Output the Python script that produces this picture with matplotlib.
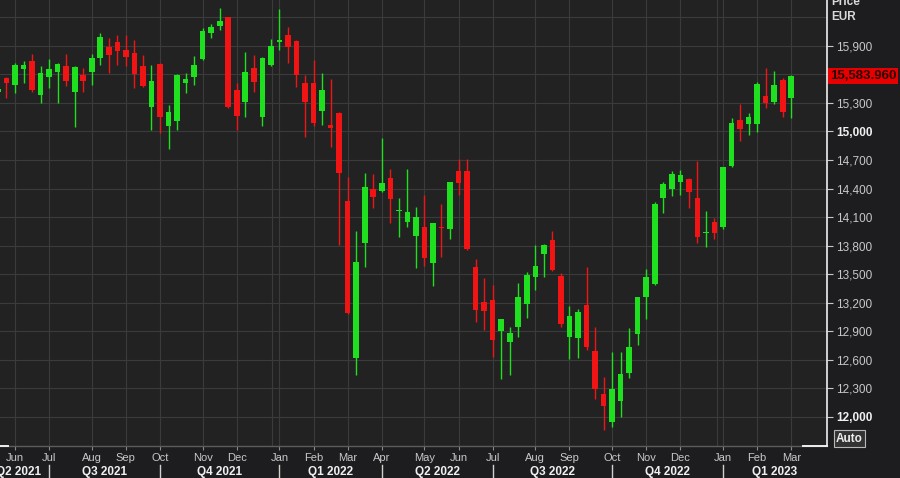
import matplotlib
matplotlib.use('Agg')
import matplotlib.pyplot as plt
import matplotlib.transforms as mtransforms
import numpy as np
import pandas as pd

plt.rcParams['font.family'] = ['Liberation Sans', 'DejaVu Sans']

# weekly candles, week ending Friday
start = '2021-05-21'
opens = [15420, 15560, 15489, 15655, 15745, 15384, 15571, 15630, 15689, 15419,
         15595, 15630, 15771, 15886, 15945, 15858, 15829, 15689, 15255, 15711,
         15058, 15114, 15514, 15571, 15760, 16040, 16111, 16202, 15437, 15314,
         15665, 15156, 15700, 15945, 16016, 15956, 15514, 15514, 15216, 15068,
         15198, 14272, 12613, 13830, 14392, 14374, 14507, 14165, 14051, 13900,
         13998, 13619, 13988, 13974, 14587, 14587, 13577, 13208, 13226, 12903,
         12788, 12939, 13184, 13472, 13707, 13858, 13479, 12834, 12822, 13174,
         12690, 12237, 11945, 12166, 12461, 12868, 13255, 13395, 14297, 14392,
         14472, 14497, 14303, 13932, 14051, 13992, 14637, 15121, 15079, 15079,
         15374, 15314, 15542, 15350]
highs = [15480, 15577, 15718, 15742, 15813, 15689, 15760, 15718, 15816, 15689,
         15665, 15816, 16040, 15981, 16016, 16016, 15963, 15805, 15700, 15720,
         15279, 15605, 15613, 15795, 16086, 16132, 16297, 16208, 15514, 15840,
         15805, 15781, 15971, 16289, 16097, 15963, 15595, 15753, 15619, 15549,
         15210, 14518, 13956, 14566, 14553, 14935, 14605, 14297, 14605, 14202,
         14332, 14034, 14237, 14472, 14707, 14707, 13655, 13455, 13384, 13030,
         12946, 13409, 13524, 13805, 13816, 13956, 13514, 13163, 13132, 13577,
         12946, 12419, 12682, 12682, 12928, 13261, 13550, 14261, 14472, 14587,
         14595, 14507, 14692, 14163, 14086, 14630, 15139, 15290, 15198, 15524,
         15665, 15640, 15560, 15595]
lows = [15390, 15350, 15408, 15507, 15419, 15303, 15455, 15303, 15479, 15051,
        15419, 15489, 15700, 15619, 15700, 15689, 15455, 15465, 15016, 14981,
        14813, 15016, 15408, 15489, 15753, 15981, 16068, 15244, 15016, 15150,
        15419, 15058, 15693, 15858, 15718, 15465, 14945, 15058, 15068, 14840,
        13805, 13079, 12437, 13577, 14192, 14360, 14034, 13893, 13998, 13560,
        13584, 13374, 13676, 13866, 14332, 13753, 12998, 12911, 12630, 12392,
        12437, 12832, 13040, 13332, 13465, 13532, 12939, 12602, 12613, 12700,
        12181, 11858, 11893, 11998, 12402, 12753, 13023, 13384, 14145, 14321,
        14332, 14192, 13823, 13787, 13865, 13971, 14630, 14903, 14963, 14998,
        15244, 15290, 15150, 15139]
closes = [15450, 15514, 15700, 15700, 15437, 15619, 15655, 15707, 15535, 15682,
          15535, 15771, 15992, 15805, 15851, 15781, 15605, 15479, 15535, 15156,
          15208, 15595, 15549, 15700, 16061, 16103, 16163, 15255, 15163, 15630,
          15524, 15771, 15900, 15956, 15886, 15595, 15314, 15093, 15437, 15040,
          14560, 13086, 13630, 14419, 14307, 14455, 14286, 14170, 14153, 14103,
          13665, 14034, 13981, 14465, 14461, 13760, 13121, 13111, 12805, 13023,
          12876, 13255, 13490, 13584, 13805, 13542, 12974, 13061, 13097, 12735,
          12286, 12111, 12286, 12447, 12735, 13255, 13465, 14237, 14447, 14553,
          14542, 14366, 13886, 13939, 13929, 14623, 15093, 15023, 15156, 15500,
          15303, 15489, 15208, 15583.96]
y_ticks = [12000, 12300, 12600, 12900, 13200, 13500, 13800, 14100, 14400,
           14700, 15000, 15300, 15600, 15900]

opens = np.array(opens); highs = np.array(highs)
lows = np.array(lows); closes = np.array(closes)
dates = pd.date_range(start, periods=len(opens), freq='W-FRI')
x = np.arange(len(opens))

W, H = 900, 478
BG = '#1d1d1f'
AXBG = '#222222'
GRID = '#3b3b3b'
GREEN = '#1fe01f'
RED = '#f01414'
LBL = '#c8c8c8'

fig = plt.figure(figsize=(W / 100, H / 100), dpi=100)
fig.patch.set_facecolor(BG)
ax_bottom = 445.7
ax = fig.add_axes([0, 1 - ax_bottom / H, 826.7 / W, ax_bottom / H])
ax.set_facecolor(AXBG)
x0, x1 = 0.24, 97.16
ax.set_xlim(x0, x1)
ax.set_ylim(11693, 16384)

# candles
up = closes >= opens
cols = np.where(up, GREEN, RED)
ax.vlines(x, lows, highs, colors=cols, linewidth=1.0, zorder=3)
ax.bar(x, np.maximum(np.abs(closes - opens), 14), bottom=np.minimum(opens, closes),
       width=0.66, color=cols, linewidth=0, zorder=4)

# month ticks at first candle of each month
mpos = [i for i in range(1, len(dates)) if dates[i].month != dates[i - 1].month]
ax.set_xticks(mpos)
ax.set_xticklabels([])
ax.tick_params(axis='x', length=3, width=0.8, color='#8a8a8a', direction='out')
for yr in (2022, 2023):
    yb = (pd.Timestamp(f'{yr}-01-01') - dates[0]).days / 7
    ax.axvline(yb, color=GRID, lw=0.8, zorder=1)

ax.set_yticks(y_ticks)
ax.yaxis.tick_right()
ax.set_yticklabels(['' if v == 15600 else f'{v:,}' for v in y_ticks])
ax.tick_params(axis='y', length=4, width=0.8, color=LBL, pad=3,
               labelsize=8.5, labelcolor=LBL)
for lab, v in zip(ax.get_yticklabels(), y_ticks):
    if v % 3000 == 0:
        lab.set_fontweight('bold')
        lab.set_color('#f0f0f0')
ax.grid(True, color=GRID, lw=0.8, zorder=1)
ax.axhline(16200, color=GRID, lw=0.8, zorder=1)

for s in ('top', 'left'):
    ax.spines[s].set_visible(False)
ax.spines['right'].set_color('#f0f0f0')
ax.spines['right'].set_linewidth(1.2)
ax.spines['bottom'].set_color('#5c5c5c')
ax.spines['bottom'].set_linewidth(1.0)
ylo = ax.get_ylim()[0]
ax.plot([x0, 1.18], [ylo, ylo], color='#f0f0f0', lw=1.4, clip_on=False, zorder=5)
ax.plot([94.38, x1], [ylo, ylo], color='#f0f0f0', lw=1.4, clip_on=False, zorder=5)

# month and quarter labels under the axis
tx = ax.get_xaxis_transform()
def ay(py):
    return (ax_bottom - py) / ax_bottom

for p in mpos:
    ax.text(p, ay(458), dates[p].strftime('%b'), transform=tx, ha='center',
            va='center', fontsize=8, color=LBL, clip_on=False)

def fri_index(d):
    # first Friday on/after d, as candle index
    f = d if d.weekday() == 4 else d + pd.offsets.Week(weekday=4, n=0)
    return (f - dates[0]).days / 7

qstarts = pd.date_range('2021-04-01', '2023-04-01', freq='QS')
for qs, qe in zip(qstarts[:-1], qstarts[1:]):
    a, b = fri_index(qs), fri_index(qe)
    if a < x0:
        mid = (x0 + b) / 2 - 0.7
    else:
        mid = (a + min(b, x1)) / 2
    ax.text(mid, ay(472), f'Q{qs.quarter} {qs.year}', transform=tx, ha='center',
            va='center', fontsize=8.5, fontweight='bold', color='#f0f0f0', clip_on=False)
    if x0 < a < x1:
        ax.plot([a, a], [ay(465), ay(478)], transform=tx, color='#d0d0d0',
                lw=1.0, clip_on=False)

# last price marker
pt = mtransforms.offset_copy(ax.get_yaxis_transform(), fig=fig, x=3, units='dots')
ax.text(1.0, closes[-1], f'{closes[-1]:,.3f}', transform=pt,
        ha='left', va='center', fontsize=9.5, fontweight='bold', color='#2a0000',
        clip_on=False, zorder=10,
        bbox=dict(boxstyle='square,pad=0.15', fc='#e80000', ec='none'))

fig.text(831 / W, 1 - 2 / H, 'Price', ha='left', va='center', fontsize=8.5,
         fontweight='bold', color='#d8d8d8')
fig.text(831 / W, 1 - 16.5 / H, 'EUR', ha='left', va='center', fontsize=8.5,
         fontweight='bold', color='#d8d8d8')
fig.text(849.5 / W, 1 - 438.7 / H, 'Auto', ha='center', va='center', fontsize=8.5,
         fontweight='bold', color='#ececec',
         bbox=dict(boxstyle='square,pad=0.2', fc='#333333', ec='#b8b8b8', lw=0.8))

fig.savefig('out.png', dpi=100, facecolor=BG)
